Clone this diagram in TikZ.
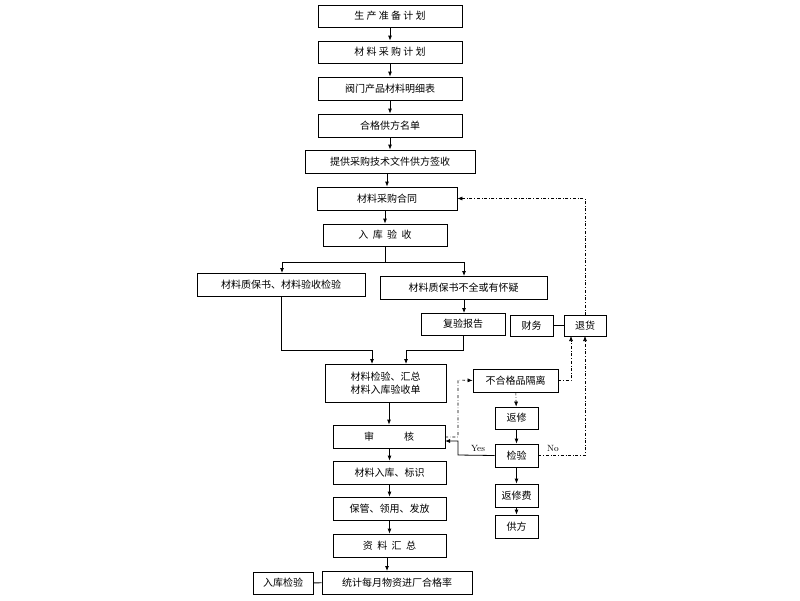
\documentclass[tikz,border=0pt]{standalone}
\usepackage{fontspec}
\newfontfamily\cjk{Noto Sans CJK SC}
\usetikzlibrary{arrows.meta}
\begin{document}
\begin{tikzpicture}[x=1pt,y=-1pt,
 bx/.style={draw,line width=0.8pt,font=\cjk\fontsize{10}{13}\selectfont,inner sep=0pt,align=center},
 ar/.style={-{Latex[length=5pt,width=4pt]},line width=0.8pt},
 dd/.style={dash dot,line width=0.6pt},
 lbl/.style={font=\fontsize{9}{10}\selectfont,inner sep=1pt}]
\fill[white] (0,0) rectangle (800,600);
\useasboundingbox (0,0) rectangle (800,600);
\newcommand{\bb}[6]{\node[bx,minimum width=#4-#2,minimum height=#5-#3] (#1) at ({(#2+#4)/2},{(#3+#5)/2}) {#6};}
\bb{a}{318}{5}{462}{27}{生\ 产\ 准\ 备\ 计\ 划}
\bb{b}{318}{41}{462}{63}{材\ 料\ 采\ 购\ 计\ 划}
\bb{c}{318}{77}{462}{100}{阀门产品材料明细表}
\bb{d}{318}{114}{462}{137}{合格供方名单}
\bb{e}{305}{150}{475}{173}{提供采购技术文件供方签收}
\bb{f}{317}{187}{457}{210}{材料采购合同}
\bb{g}{323}{224}{447}{246}{入\ \ 库\ \ 验\ \ 收}
\bb{h}{197}{273}{365}{296}{材料质保书、材料验收检验}
\bb{i}{380}{276}{547}{299}{材料质保书不全或有怀疑}
\bb{j}{421}{313}{505}{335}{复验报告}
\bb{cw}{510}{315}{553}{336}{财务}
\bb{th}{564}{315}{606}{336}{退货}
\bb{k}{325}{364}{446}{402}{材料检验、汇总\\材料入库验收单}
\bb{bh}{473}{369}{558}{392}{不合格品隔离}
\bb{fx}{495}{407}{538}{429}{返修}
\bb{sh}{333}{425}{445}{448}{审\qquad\quad 核}
\bb{jy}{495}{444}{538}{467}{检验}
\bb{l}{333}{461}{446}{484}{材料入库、标识}
\bb{fxf}{495}{484}{538}{507}{返修费}
\bb{m}{333}{497}{446}{520}{保管、领用、发放}
\bb{gf}{495}{515}{538}{538}{供方}
\bb{n}{333}{534}{446}{557}{资\ \ 料\ \ 汇\ \ 总}
\bb{rk}{253}{572}{313}{594}{入库检验}
\bb{tj}{322}{571}{472}{594}{统计每月物资进厂合格率}
\draw[ar] (a) -- (b);
\draw[ar] (b) -- (c);
\draw[ar] (c) -- (d);
\draw[ar] (d) -- (e);
\draw[ar] (e.south -| f) -- (f);
\draw[ar] (f.south -| g) -- (g);
\draw[line width=0.8pt] (g.south) -- (g.south |- 0,262) coordinate (br);
\draw[ar] (br) -| (282,273) coordinate (hn);
\draw[ar] (br) -| (464,276) coordinate (in);
\draw[ar] (464,299) -- (464,313);
\draw[ar] (281,296) |- (372,350) -- (372,364);
\draw[ar] (463,335) |- (406,350) -- (406,364);
\draw[ar] (k.south -| sh) -- (sh);
\draw[ar] (sh.south -| l) -- (l);
\draw[ar] (l) -- (m);
\draw[ar] (m) -- (n);
\draw[ar] (n.south -| 387,0) -- (387,571);
\draw[line width=0.8pt] (rk) -- (tj);
\draw[line width=0.8pt] (cw) -- (th);
\draw[dd,-{Latex[length=5pt,width=4pt]}] (445,437) -| (458,380) -- (bh.west);
\draw[dd,-{Latex[length=5pt,width=4pt]}] (bh.east) -| (571,336);
\draw[dd,-{Latex[length=5pt,width=4pt]}] (bh) -- (fx);
\draw[ar] (fx) -- (jy);
\draw[ar] (jy.west) -- (458,455) |- (445,441);
\node[lbl] at (478,448) {Yes};
\draw[dd,-{Latex[length=5pt,width=4pt]}] (jy.east) -| (585,336);
\node[lbl] at (553,448) {No};
\draw[ar] (jy) -- (fxf);
\draw[ar] (fxf) -- (gf);
\draw[dd,-{Latex[length=5pt,width=4pt]}] (585,315) |- (f.east);
\end{tikzpicture}
\end{document}
